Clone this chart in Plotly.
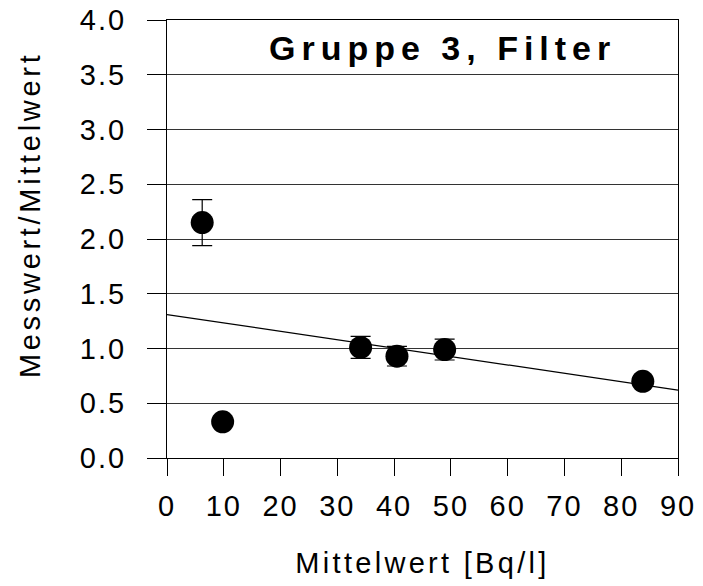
import plotly.graph_objects as go

# Data
mittelwert = [6.2, 9.8, 34.1, 40.5, 48.9, 83.8]
ratio = [2.15, 0.33, 1.01, 0.93, 0.99, 0.70]
ratio_err = [0.21, 0.02, 0.10, 0.09, 0.095, 0.03]

trend_x = [0, 90]
trend_y = [1.31, 0.62]

x_ticks = [0, 10, 20, 30, 40, 50, 60, 70, 80, 90]
y_ticks = [0.0, 0.5, 1.0, 1.5, 2.0, 2.5, 3.0, 3.5, 4.0]

FONT = "Arial, Liberation Sans, sans-serif"

fig = go.Figure()
fig.add_trace(go.Scatter(
    x=trend_x, y=trend_y, mode="lines",
    line=dict(color="black", width=1.2),
    showlegend=False, hoverinfo="skip",
))
fig.add_trace(go.Scatter(
    x=mittelwert, y=ratio, mode="markers",
    marker=dict(symbol="circle", size=23, color="black"),
    error_y=dict(type="data", array=ratio_err, visible=True,
                 color="black", thickness=1.2, width=10),
    showlegend=False,
))

# chart title (inside plot area)
fig.add_annotation(
    x=0.54, y=0.935, xref="paper", yref="paper",
    text="<b>Gruppe 3, Filter</b>", showarrow=False,
    font=dict(family=FONT, size=34, color="black"),
    xanchor="center", yanchor="middle",
)
# y axis title
fig.add_annotation(
    x=-0.268, y=0.555, xref="paper", yref="paper",
    text="Messwert/Mittelwert", showarrow=False, textangle=-90,
    font=dict(family=FONT, size=29, color="black"),
    xanchor="center", yanchor="middle",
)

fig.update_layout(
    width=703, height=586,
    margin=dict(l=167, r=25, t=20, b=128),
    paper_bgcolor="white", plot_bgcolor="white",
    font=dict(family=FONT, color="black", size=29),
)
fig.update_xaxes(
    range=[0, 90], tickvals=x_ticks, ticktext=[str(v) for v in x_ticks],
    showgrid=False, zeroline=False, automargin=False,
    showline=True, linecolor="black", linewidth=1, mirror=True,
    ticks="outside", ticklen=17, tickcolor="black", tickwidth=1,
    ticklabelstandoff=5,
    tickfont=dict(family=FONT, size=29, color="black"),
    title=dict(text="Mittelwert [Bq/l]", font=dict(family=FONT, size=29, color="black"), standoff=31),
)
fig.update_yaxes(
    range=[0, 4], tickvals=y_ticks, ticktext=[f"{v:.1f}" for v in y_ticks],
    showgrid=True, gridcolor="#333333", gridwidth=1, zeroline=False, automargin=False,
    showline=True, linecolor="black", linewidth=1, mirror=True,
    ticks="outside", ticklen=19, tickcolor="black", tickwidth=1,
    ticklabelstandoff=15,
    tickfont=dict(family=FONT, size=29, color="black"),
)

css_js = """
var st = document.createElement('style');
st.textContent = '.xtick text, .ytick text {letter-spacing: 2px;}' +
  ' .xtitle {letter-spacing: 3.3px;}' +
  ' .annotation[data-index="0"] text {letter-spacing: 6px;}' +
  ' .annotation[data-index="1"] text {letter-spacing: 3.7px;}';
document.head.appendChild(st);
"""

fig.write_html("out.html", post_script=css_js)
